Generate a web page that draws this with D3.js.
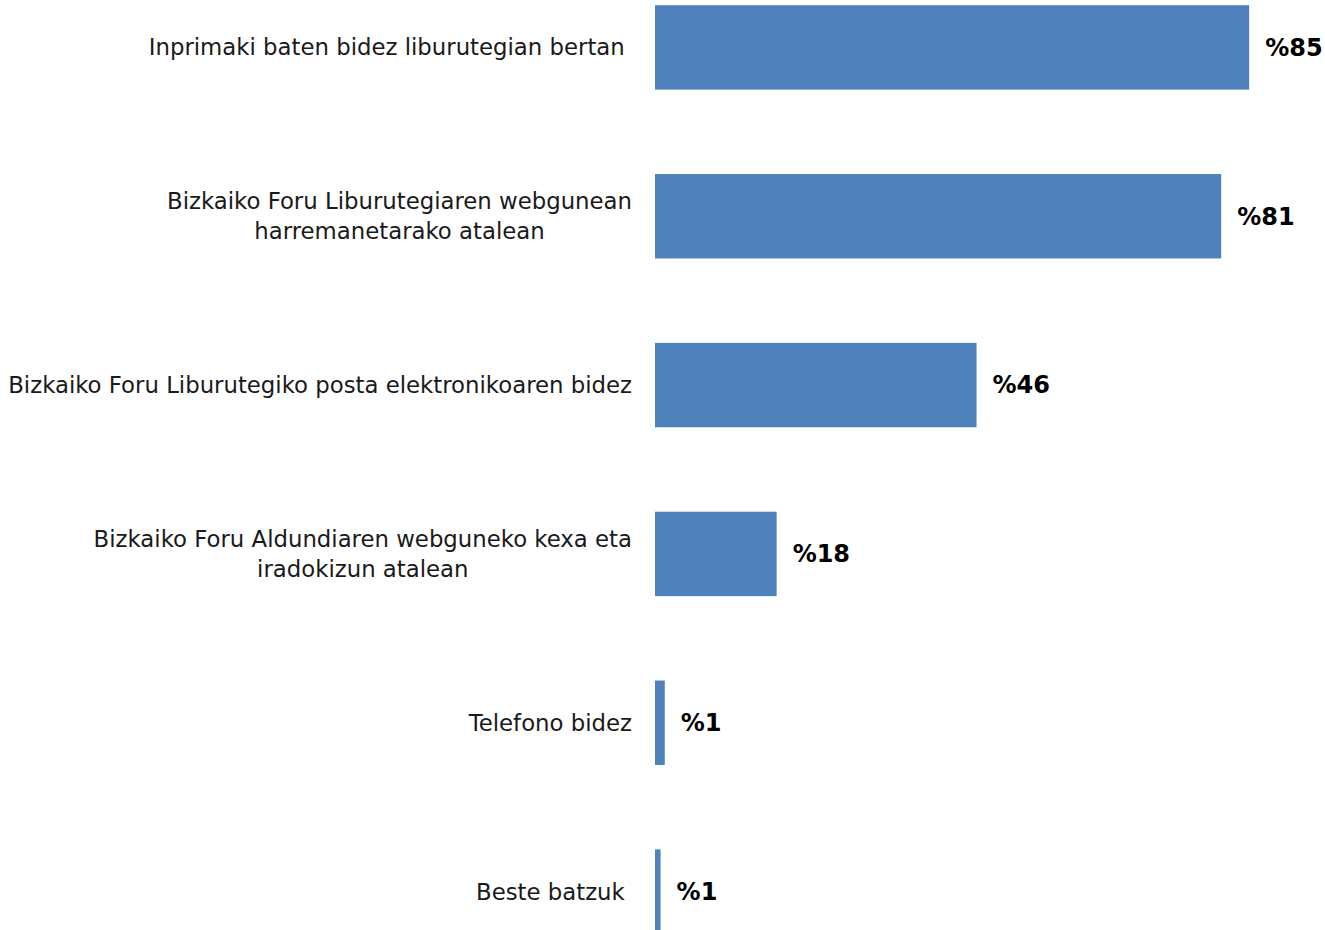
<!DOCTYPE html>
<html>
<head>
<meta charset="utf-8">
<script src="https://cdn.jsdelivr.net/npm/d3@7"></script>
<style>
  body { margin: 0; background: #fff; }
  svg { display: block; }
  text { white-space: pre; }
</style>
</head>
<body>
<div id="chart"></div>
<script>
// categories (lines split as in the original, trailing spaces kept)
const categories = [
    ["Inprimaki baten bidez liburutegian bertan "],
    ["Bizkaiko Foru Liburutegiaren webgunean", "harremanetarako atalean"],
    ["Bizkaiko Foru Liburutegiko posta elektronikoaren bidez"],
    ["Bizkaiko Foru Aldundiaren webguneko kexa eta", "iradokizun atalean"],
    ["Telefono bidez"],
    ["Beste batzuk "]
];
const values = [85, 81, 46, 17.4, 1.4, 0.8];
const valueLabels = ["%85", "%81", "%46", "%18", "%1", "%1"];

const width = 1325;
const height = 930;

const svg = d3.select("#chart")
    .append("svg")
    .attr("width", width)
    .attr("height", height);

const x = d3.scaleLinear()
    .domain([0, 100])
    .range([655, 1354]);

const y = d3.scaleBand()
    .domain(d3.range(categories.length))
    .range([-37, 976])
    .paddingInner(0.5)
    .paddingOuter(0.25);

// bars
svg.selectAll("rect.bar")
    .data(values)
    .enter()
    .append("rect")
    .attr("class", "bar")
    .attr("x", x(0))
    .attr("y", (d, i) => y(i))
    .attr("width", d => x(d) - x(0))
    .attr("height", y.bandwidth())
    .attr("fill", "#4f81bd");

// value labels
svg.selectAll("text.val")
    .data(values)
    .enter()
    .append("text")
    .attr("class", "val")
    .attr("x", d => x(d) + 16)
    .attr("y", (d, i) => y(i) + y.bandwidth() / 2)
    .attr("dy", "0.35em")
    .attr("font-family", "DejaVu Sans, sans-serif")
    .attr("font-weight", "bold")
    .attr("font-size", 24)
    .attr("fill", "#000")
    .text((d, i) => valueLabels[i]);

// category labels: block right-aligned, lines centred within it
const labelRight = 632;
const lineH = 30;
const groups = svg.selectAll("g.cat")
    .data(categories)
    .enter()
    .append("g")
    .attr("class", "cat");

groups.each(function(lines, i) {
    const g = d3.select(this);
    const cy = y(i) + y.bandwidth() / 2;
    const texts = lines.map((s, k) => g.append("text")
        .attr("y", cy + (k - (lines.length - 1) / 2) * lineH)
        .attr("dy", "0.35em")
        .attr("font-family", "DejaVu Sans, sans-serif")
        .attr("font-size", 22.8)
        .attr("fill", "#1a1a1a")
        .attr("text-anchor", "middle")
        .text(s));
    const w = d3.max(texts, t => t.node().getComputedTextLength());
    texts.forEach(t => t.attr("x", labelRight - w / 2));
});
</script>
</body>
</html>
